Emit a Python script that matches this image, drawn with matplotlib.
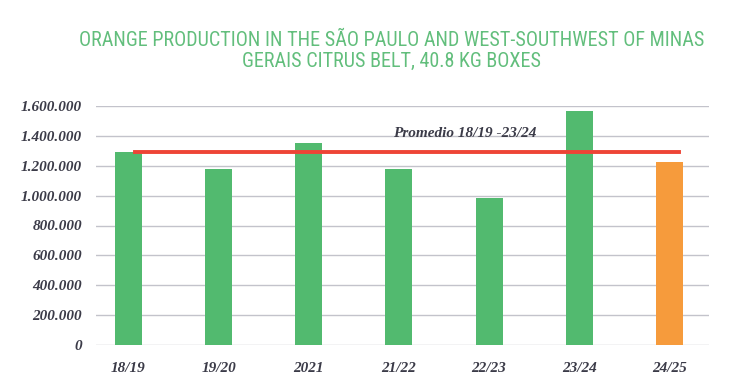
import matplotlib
matplotlib.use("Agg")
import matplotlib.pyplot as plt
from matplotlib.ticker import FuncFormatter, MultipleLocator

categories = ["18/19", "19/20", "2021", "21/22", "22/23", "23/24", "24/25"]
production = [1290000, 1180000, 1352000, 1180000, 985000, 1566000, 1225000]
bar_colors = ["#52ba6f"] * 6 + ["#f69b3c"]
average_value = 1290000
average_label = "Promedio 18/19 -23/24"
title = "ORANGE PRODUCTION IN THE SÃO PAULO AND WEST-SOUTHWEST OF MINAS\nGERAIS CITRUS BELT, 40.8 KG BOXES"

fig = plt.figure(figsize=(7.36, 3.79), dpi=100)
ax = fig.add_axes([96/736, 1-345/379, (709-96)/736, (345-106)/379])

x = list(range(len(categories)))
ax.bar(x, production, width=0.3, color=bar_colors, zorder=3)
ax.set_xlim(-0.36, 6.44)
ax.set_ylim(0, 1600000)
ax.yaxis.set_major_locator(MultipleLocator(200000))
ax.yaxis.set_major_formatter(FuncFormatter(lambda v, p: f"{int(v):,}".replace(",", ".")))
ax.grid(axis="y", color="#c3c3cb", linewidth=1.0, zorder=0)
ax.set_axisbelow(True)
for s in ax.spines.values():
    s.set_visible(False)
ax.set_xticks(x)
ax.set_xticklabels(categories)
ax.tick_params(axis="both", length=0)
ax.tick_params(axis="y", pad=10)
ax.tick_params(axis="x", pad=12.5)
serif = ["Liberation Serif", "DejaVu Serif"]
for lab in ax.get_yticklabels() + ax.get_xticklabels():
    lab.set_fontfamily(serif)
    lab.set_fontstyle("italic")
    lab.set_fontweight("bold")
    lab.set_fontsize(11)
    lab.set_color("#3b3b48")

ax.axhline(average_value, xmin=(135-96)/613, xmax=(679-96)/613, color="#ee4436", linewidth=2.8, zorder=4)
ax.text(2.93, 1415000, average_label, family=serif, style="italic", weight="bold",
        fontsize=11, color="#3b3b48", ha="left", va="center")

fig.text(392/736, 1-51/379, title, ha="center", va="center", color="#62be7c",
         fontsize=14.5, family=["Roboto Condensed", "Liberation Sans Narrow", "DejaVu Sans"],
         linespacing=1.15)

fig.savefig("out.png", dpi=100)
